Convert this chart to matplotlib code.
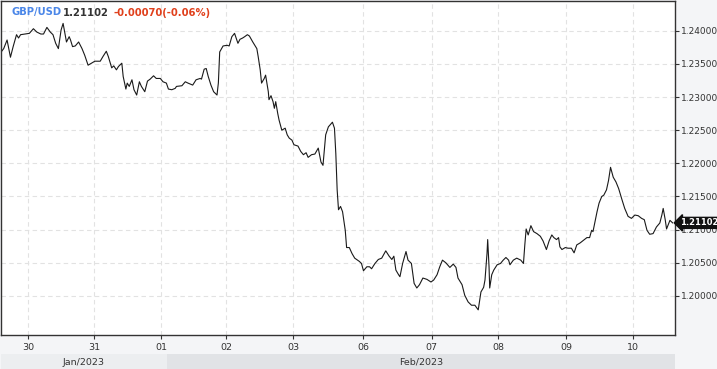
import matplotlib
matplotlib.use("Agg")
import matplotlib.pyplot as plt
import matplotlib.transforms as mtransforms

# trading-day axis: 0 = 30 Jan, weekend removed
t_days = [
    -0.39, -0.36, -0.31, -0.26, -0.22, -0.17, -0.14, -0.11, -0.04, 0.02,
    0.08, 0.13, 0.19, 0.23, 0.28, 0.33, 0.37, 0.41, 0.45, 0.49,
    0.52, 0.55, 0.57, 0.61, 0.63, 0.66, 0.70, 0.75, 0.80, 0.84,
    0.89, 0.94, 0.99, 1.07, 1.11, 1.16, 1.19, 1.24, 1.27, 1.31,
    1.34, 1.39, 1.41, 1.45, 1.47, 1.50, 1.54, 1.57, 1.61, 1.65,
    1.68, 1.73, 1.77, 1.81, 1.86, 1.90, 1.96, 2.00, 2.05, 2.08,
    2.13, 2.18,
    2.20, 2.28, 2.33, 2.37, 2.44, 2.49, 2.55, 2.57, 2.61, 2.64,
    2.67, 2.71, 2.75, 2.80, 2.82, 2.84, 2.89, 2.95, 2.98, 3.02,
    3.06, 3.11, 3.14, 3.18, 3.21, 3.25, 3.28, 3.33, 3.39, 3.41,
    3.44, 3.46, 3.50, 3.52, 3.54, 3.56, 3.57, 3.60, 3.63, 3.65,
    3.67, 3.70, 3.72, 3.76, 3.81, 3.84, 3.87, 3.91, 3.94, 4.00,
    4.04, 4.08, 4.12, 4.15, 4.20, 4.25, 4.30, 4.34, 4.37, 4.41,
    4.45, 4.51, 4.54, 4.56, 4.58,
    4.60, 4.63, 4.66, 4.70, 4.72, 4.76, 4.80, 4.84, 4.91, 4.94,
    4.97, 5.02, 5.06, 5.09, 5.14, 5.19, 5.24, 5.30, 5.35, 5.39,
    5.42, 5.45, 5.49, 5.51, 5.55, 5.60, 5.63, 5.68, 5.72, 5.76,
    5.80, 5.85, 5.91, 5.97, 6.01, 6.06, 6.10, 6.14, 6.19, 6.25,
    6.30, 6.34, 6.37, 6.43, 6.47, 6.52, 6.57, 6.62, 6.67, 6.71,
    6.75, 6.77, 6.80, 6.81, 6.83, 6.84, 6.87, 6.90, 6.95, 7.00,
    7.04, 7.08, 7.12, 7.14,
    7.19, 7.24, 7.30, 7.34, 7.36, 7.38, 7.41, 7.45, 7.49, 7.54,
    7.59, 7.63, 7.68, 7.72, 7.76, 7.79, 7.83, 7.86, 7.88, 7.91,
    7.96, 8.00, 8.05, 8.09, 8.13, 8.18, 8.23, 8.28, 8.32, 8.35,
    8.37, 8.40, 8.43, 8.46, 8.50, 8.53, 8.57, 8.60, 8.63, 8.67,
    8.71, 8.75, 8.80, 8.84, 8.89, 8.94, 8.99, 9.04, 9.09, 9.13,
    9.17, 9.21, 9.26, 9.31, 9.36, 9.39, 9.41, 9.44, 9.46, 9.49,
    9.51, 9.55,
]

prices = [
    1.2369, 1.2373, 1.2386, 1.2360, 1.2376, 1.2394, 1.2389, 1.2394, 1.2395, 1.2396,
    1.2403, 1.2398, 1.2395, 1.2395, 1.2405, 1.2398, 1.2394, 1.2381, 1.2373, 1.2401,
    1.2411, 1.2394, 1.2383, 1.2391, 1.2386, 1.2376, 1.2377, 1.2383, 1.2373, 1.2363,
    1.2348, 1.2351, 1.2354, 1.2354, 1.2361, 1.2369, 1.2361, 1.2344, 1.2347, 1.2341,
    1.2346, 1.2351, 1.2331, 1.2312, 1.2321, 1.2316, 1.2326, 1.2311, 1.2303, 1.2323,
    1.2316, 1.2308, 1.2324, 1.2327, 1.2332, 1.2328, 1.2328, 1.2323, 1.2321, 1.2312,
    1.2311, 1.2313,
    1.2316, 1.2317, 1.2323, 1.2321, 1.2318, 1.2326, 1.2328, 1.2327, 1.2342, 1.2343,
    1.2331, 1.2318, 1.2308, 1.2303, 1.2321, 1.2368, 1.2377, 1.2378, 1.2377, 1.2391,
    1.2396, 1.2381, 1.2387, 1.2389, 1.2391, 1.2394, 1.2392, 1.2383, 1.2373, 1.2361,
    1.2341, 1.2321, 1.2328, 1.2333, 1.2321, 1.2308, 1.2296, 1.2302, 1.2293, 1.2283,
    1.2293, 1.2275, 1.2265, 1.2250, 1.2253, 1.2243, 1.2238, 1.2235, 1.2228, 1.2226,
    1.2218, 1.2213, 1.2216, 1.2209, 1.2213, 1.2214, 1.2223, 1.2202, 1.2197, 1.2243,
    1.2255, 1.2262, 1.2253, 1.2215, 1.2160,
    1.2130, 1.2135, 1.2127, 1.2099, 1.2073, 1.2073, 1.2064, 1.2057, 1.2052, 1.2049,
    1.2038, 1.2044, 1.2044, 1.2041, 1.2049, 1.2055, 1.2057, 1.2068, 1.2060, 1.2055,
    1.2060, 1.2039, 1.2032, 1.2029, 1.2049, 1.2067, 1.2054, 1.2049, 1.2019, 1.2012,
    1.2017, 1.2027, 1.2025, 1.2021, 1.2024, 1.2032, 1.2044, 1.2054, 1.2050, 1.2043,
    1.2048, 1.2043, 1.2027, 1.2017, 1.2001, 1.1991, 1.1986, 1.1986, 1.1979, 1.2006,
    1.2013, 1.2024, 1.2064, 1.2085, 1.2044, 1.2012, 1.2032, 1.2039, 1.2047, 1.2049,
    1.2054, 1.2058, 1.2054, 1.2047,
    1.2054, 1.2057, 1.2054, 1.2049, 1.2077, 1.2101, 1.2092, 1.2106, 1.2097, 1.2094,
    1.2090, 1.2083, 1.2070, 1.2083, 1.2092, 1.2088, 1.2085, 1.2088, 1.2074, 1.2070,
    1.2073, 1.2072, 1.2072, 1.2065, 1.2077, 1.2080, 1.2084, 1.2088, 1.2088, 1.2099,
    1.2097, 1.2112, 1.2127, 1.2140, 1.2150, 1.2152, 1.2160, 1.2174, 1.2194, 1.2179,
    1.2172, 1.2162, 1.2145, 1.2132, 1.2120, 1.2117, 1.2122, 1.2121, 1.2117, 1.2115,
    1.2099, 1.2093, 1.2094, 1.2104, 1.2110, 1.2122, 1.2132, 1.2115, 1.2101, 1.2109,
    1.2114, 1.21102,
]

tick_pos = [0.0, 0.98, 1.97, 2.94, 3.93, 4.97, 5.98, 6.97, 7.97, 8.96]
tick_labels = ['30', '31', '01', '02', '03', '06', '07', '08', '09', '10']
y_ticks = [1.200, 1.205, 1.210, 1.215, 1.220, 1.225, 1.230, 1.235, 1.240]

months = ['Jan/2023', 'Feb/2023']
month_edges = [-0.40, 2.06, 9.585]

ticker = 'GBP/USD'
change = -0.00070
change_pct = -0.06

W, H = 717, 369
xlim = (-0.40, 9.585)
ylim = (1.19411, 1.24448)

fig = plt.figure(figsize=(W / 100, H / 100), dpi=100)
fig.patch.set_facecolor('#f4f5f7')

# main price panel
ax = fig.add_axes([1 / W, 34 / H, 674 / W, 334 / H])
ax.set_facecolor('white')
ax.plot(t_days, prices, color='#1a1a1a', lw=0.8)
ax.set_xlim(*xlim)
ax.set_ylim(*ylim)

ax.yaxis.tick_right()
ax.set_yticks(y_ticks)
ax.set_yticklabels([f'{v:.5f}' for v in y_ticks])
ax.set_xticks(tick_pos)
ax.set_xticklabels(tick_labels)
ax.tick_params(axis='both', colors='#333333', labelsize=6.8, length=3, width=0.8)
ax.tick_params(axis='y', pad=1, labelsize=6.5)
ax.tick_params(axis='x', pad=3)

ax.grid(True, color='#e2e2e2', linestyle=(0, (4, 3)), linewidth=0.8)
for s in ax.spines.values():
    s.set_color('#333333')
    s.set_linewidth(1.0)

# last price tag
last = prices[-1]
tr = mtransforms.blended_transform_factory(ax.transAxes, ax.transData)
tr = mtransforms.offset_copy(tr, fig=fig, x=5, y=0, units='dots')
ax.text(1.0, last, f'{last:.5f}', transform=tr, ha='left', va='center',
        color='white', fontsize=6.0, fontweight='bold', clip_on=False,
        bbox=dict(boxstyle='larrow,pad=0.12', fc='#111111', ec='#111111'))

# month band
axm = fig.add_axes([1 / W, 0, 674 / W, 15 / H])
axm.set_xlim(*xlim)
axm.set_ylim(0, 1)
axm.axis('off')
band_cols = ['#eceef0', '#e1e3e6']
for i, m in enumerate(months):
    axm.axvspan(month_edges[i], month_edges[i + 1], color=band_cols[i], lw=0)
    axm.text((month_edges[i] + month_edges[i + 1]) / 2, 0.45, m,
             ha='center', va='center', fontsize=6.8, color='#333333')

# header
hy = 1 - 12.5 / H
fig.text(11.5 / W, hy, ticker, color='#4a86e8', fontsize=7.2,
         fontweight='bold', va='center')
fig.text(63 / W, hy, f'{last:.5f}', color='#333333', fontsize=7.2,
         fontweight='bold', va='center')
fig.text(113 / W, hy, f'{change:.5f}({change_pct:.2f}%)',
         color='#e0401c', fontsize=7.2, fontweight='bold', va='center')

fig.savefig('out.png', dpi=100, facecolor=fig.get_facecolor())
